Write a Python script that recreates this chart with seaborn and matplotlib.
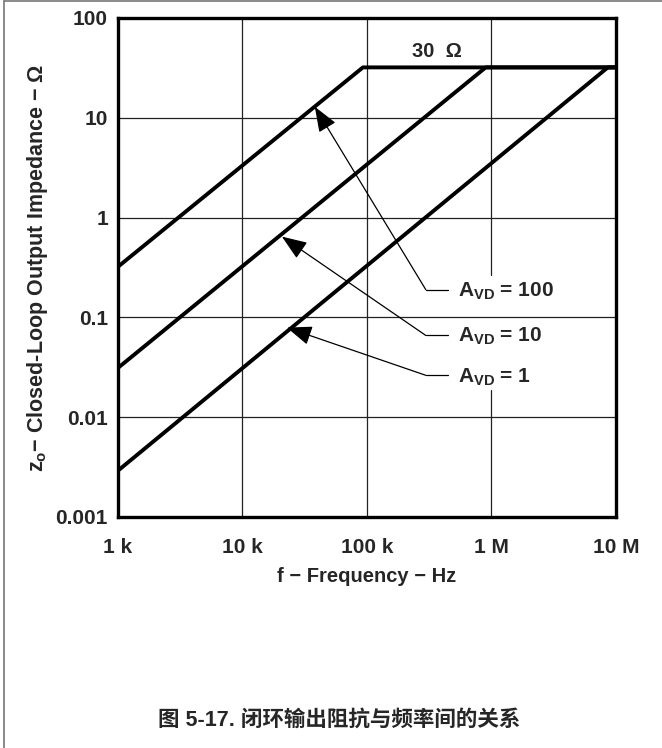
import numpy as np
import pandas as pd
import matplotlib
matplotlib.use("Agg")
import matplotlib.pyplot as plt
import seaborn as sns
from matplotlib.lines import Line2D

# ---- data ----
avd_labels = ["100", "10", "1"]
start_freq = [1e3, 1e3, 1e3]
start_z = [0.32, 0.031, 0.0029]
knee_freq = [9.3e4, 9.0e5, 8.6e6]
cap_z = 32.0
end_freq = 1e7
cap_label = "30  Ω"

x_ticks = [1e3, 1e4, 1e5, 1e6, 1e7]
x_ticklabels = ["1 k", "10 k", "100 k", "1 M", "10 M"]
y_ticks = [1e-3, 1e-2, 1e-1, 1, 10, 100]
y_ticklabels = ["0.001", "0.01", "0.1", "1", "10", "100"]

# annotation geometry (label knee point -> arrow tip on curve)
arrow_tip_f = [3.82e4, 2.08e4, 2.28e4]
arrow_tip_z = [12.9, 0.645, 0.079]
label_knee_f = 2.97e5
label_end_f = 4.45e5
label_z = [0.19, 0.066, 0.0263]
text_z = [0.162, 0.057, 0.0222]

sns.set_theme(style="white")
plt.rcParams["font.family"] = ["Liberation Sans", "Noto Sans CJK SC", "DejaVu Sans"]
plt.rcParams["mathtext.fontset"] = "custom"
plt.rcParams["mathtext.rm"] = "Liberation Sans"
plt.rcParams["mathtext.bf"] = "Liberation Sans:bold"
plt.rcParams["mathtext.it"] = "Liberation Sans:italic"

fig = plt.figure(figsize=(6.62, 7.48), dpi=100)
ax = fig.add_axes([117.7 / 662, 1 - 517 / 748, (616 - 117.7) / 662, (517 - 18) / 748])

ax.set_xscale("log")
ax.set_yscale("log")
ax.set_xlim(1e3, 1e7)
ax.set_ylim(1e-3, 100)

# grid lines (manual, 1M vertical has a gap behind the labels)
gc = "#222222"
glw = 0.9
for xv in x_ticks[1:-1]:
    if xv == 1e6:
        ax.axvline(xv, ymin=0, ymax=1 - (390 - 18) / 499, color=gc, lw=glw, zorder=1)
        ax.axvline(xv, ymin=1 - (275 - 18) / 499, ymax=1, color=gc, lw=glw, zorder=1)
    else:
        ax.axvline(xv, color=gc, lw=glw, zorder=1)
for yv in y_ticks[1:-1]:
    ax.axhline(yv, color=gc, lw=glw, zorder=1)

# curves
rows = []
for i, lab in enumerate(avd_labels):
    rows.append((lab, 0, start_freq[i], start_z[i]))
    rows.append((lab, 1, knee_freq[i], cap_z))
    rows.append((lab, 2, end_freq, cap_z))
df = pd.DataFrame(rows, columns=["avd", "order", "freq", "z"])
for lab in avd_labels:
    sub = df[df["avd"] == lab]
    sns.lineplot(data=sub, x="freq", y="z", ax=ax, color="black", lw=2.8,
                 sort=False, estimator=None, zorder=3, legend=False)

# ticks
ax.set_xticks(x_ticks)
ax.set_xticklabels(x_ticklabels)
ax.set_yticks(y_ticks)
ax.set_yticklabels(y_ticklabels)
ax.minorticks_off()
ax.tick_params(axis="both", length=0, labelsize=15)
ax.tick_params(axis="x", pad=15)
ax.tick_params(axis="y", pad=7)
for t in ax.get_xticklabels() + ax.get_yticklabels():
    t.set_fontweight("bold")

ax.set_xlabel("f − Frequency − Hz", fontsize=14.5, fontweight="bold", labelpad=7)
ax.set_ylabel(r"z$_{\mathbf{o}}$− Closed-Loop Output Impedance − Ω", fontsize=15.5,
              fontweight="bold", labelpad=4)

for s in ax.spines.values():
    s.set_visible(True)
    s.set_color("black")
    s.set_linewidth(2.4)
    s.set_zorder(4)

# 30 ohm label
ax.text(3.63e5, 46, cap_label, fontsize=14.5, fontweight="bold", ha="center", va="center")

# A_VD labels with leader arrows
for i, lab in enumerate(avd_labels):
    ax.plot([label_knee_f, label_end_f], [label_z[i], label_z[i]], color="black", lw=0.9, zorder=2)
    ax.annotate("", xy=(arrow_tip_f[i], arrow_tip_z[i]), xytext=(label_knee_f, label_z[i]),
                arrowprops=dict(arrowstyle="-|>,head_length=1.3,head_width=0.5",
                                color="black", lw=0.9, shrinkA=0, shrinkB=0),
                zorder=2)
    ax.text(5.4e5, text_z[i], r"$\mathbf{A}_{\mathbf{VD}}$ = " + lab, fontsize=15,
            fontweight="bold", ha="left", va="baseline", zorder=3)

# frame lines of the figure
fig.add_artist(Line2D([3.5 / 662, 3.5 / 662], [0, 1 - 1 / 748], transform=fig.transFigure,
                      color="#777777", lw=1.2))
fig.add_artist(Line2D([3.5 / 662, 1], [1 - 1 / 748, 1 - 1 / 748], transform=fig.transFigure,
                      color="#777777", lw=1.2))

# caption
fig.text(339 / 662, 1 - 720 / 748, "图 5-17. 闭环输出阻抗与频率间的关系", fontsize=15.5,
         fontweight="bold", ha="center", va="center",
         family=["Liberation Sans", "Noto Sans CJK SC"])

fig.savefig("out.png", dpi=100)
